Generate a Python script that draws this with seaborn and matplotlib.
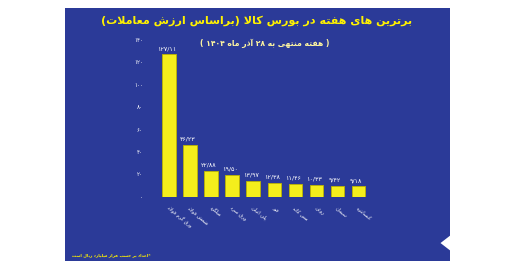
import matplotlib
matplotlib.use("Agg")
import matplotlib.pyplot as plt
import seaborn as sns
import pandas as pd
from matplotlib.patches import Rectangle, Polygon

# ---------------- data ----------------
categories = ["ورق گرم فولاد", "شمش فولاد", "میلگرد", "ورق سرد",
              "پلی اتیلن", "قیر", "مس کاتد", "روغن", "سیمان", "کنسانتره"]
values = [127.11, 46.23, 22.88, 19.50, 13.97, 12.38, 11.46, 10.33, 9.42, 9.18]
value_labels = ["۱۲۷/۱۱", "۴۶/۲۳", "۲۲/۸۸", "۱۹/۵۰", "۱۳/۹۷",
                "۱۲/۳۸", "۱۱/۴۶", "۱۰/۳۳", "۹/۴۲", "۹/۱۸"]
y_ticks = [0, 20, 40, 60, 80, 100, 120, 140]
y_tick_labels = ["۰", "۲۰", "۴۰", "۶۰", "۸۰", "۱۰۰", "۱۲۰", "۱۴۰"]
title = "برترین های هفته در بورس کالا (براساس ارزش معاملات)"
subtitle = "( هفته منتهی به ۲۸ آذر ماه ۱۴۰۴ )"
footnote = "*اعداد بر حسب هزار میلیارد ریال است"

# ------------- minimal Arabic/Persian shaping -------------
FORMS = {
    'ا': (0xFE8D, 0xFE8E, None, None), 'آ': (0xFE81, 0xFE82, None, None),
    'ب': (0xFE8F, 0xFE90, 0xFE91, 0xFE92), 'پ': (0xFB56, 0xFB57, 0xFB58, 0xFB59),
    'ت': (0xFE95, 0xFE96, 0xFE97, 0xFE98), 'ث': (0xFE99, 0xFE9A, 0xFE9B, 0xFE9C),
    'ج': (0xFE9D, 0xFE9E, 0xFE9F, 0xFEA0), 'چ': (0xFB7A, 0xFB7B, 0xFB7C, 0xFB7D),
    'ح': (0xFEA1, 0xFEA2, 0xFEA3, 0xFEA4), 'خ': (0xFEA5, 0xFEA6, 0xFEA7, 0xFEA8),
    'د': (0xFEA9, 0xFEAA, None, None), 'ذ': (0xFEAB, 0xFEAC, None, None),
    'ر': (0xFEAD, 0xFEAE, None, None), 'ز': (0xFEAF, 0xFEB0, None, None),
    'ژ': (0xFB8A, 0xFB8B, None, None),
    'س': (0xFEB1, 0xFEB2, 0xFEB3, 0xFEB4), 'ش': (0xFEB5, 0xFEB6, 0xFEB7, 0xFEB8),
    'ص': (0xFEB9, 0xFEBA, 0xFEBB, 0xFEBC), 'ض': (0xFEBD, 0xFEBE, 0xFEBF, 0xFEC0),
    'ط': (0xFEC1, 0xFEC2, 0xFEC3, 0xFEC4), 'ظ': (0xFEC5, 0xFEC6, 0xFEC7, 0xFEC8),
    'ع': (0xFEC9, 0xFECA, 0xFECB, 0xFECC), 'غ': (0xFECD, 0xFECE, 0xFECF, 0xFED0),
    'ف': (0xFED1, 0xFED2, 0xFED3, 0xFED4), 'ق': (0xFED5, 0xFED6, 0xFED7, 0xFED8),
    'ک': (0xFB8E, 0xFB8F, 0xFB90, 0xFB91), 'گ': (0xFB92, 0xFB93, 0xFB94, 0xFB95),
    'ل': (0xFEDD, 0xFEDE, 0xFEDF, 0xFEE0), 'م': (0xFEE1, 0xFEE2, 0xFEE3, 0xFEE4),
    'ن': (0xFEE5, 0xFEE6, 0xFEE7, 0xFEE8), 'ه': (0xFEE9, 0xFEEA, 0xFEEB, 0xFEEC),
    'و': (0xFEED, 0xFEEE, None, None), 'ی': (0xFBFC, 0xFBFD, 0xFBFE, 0xFBFF),
    'ئ': (0xFE89, 0xFE8A, 0xFE8B, 0xFE8C),
}


def _joins_next(ch):
    return ch in FORMS and FORMS[ch][2] is not None


def shape(text):
    out = []
    chars = list(text)
    i = 0
    n = len(chars)
    while i < n:
        ch = chars[i]
        prev = chars[i - 1] if i > 0 else None
        prev_joins = prev is not None and _joins_next(prev)
        if ch == 'ل' and i + 1 < n and chars[i + 1] in ('ا', 'آ'):
            if chars[i + 1] == 'ا':
                out.append(chr(0xFEFC if prev_joins else 0xFEFB))
            else:
                out.append(chr(0xFEF6 if prev_joins else 0xFEF5))
            i += 2
            continue
        if ch in FORMS:
            iso, fin, ini, med = FORMS[ch]
            nxt = chars[i + 1] if i + 1 < n else None
            next_ok = nxt is not None and nxt in FORMS and ini is not None
            if prev_joins and next_ok and med:
                out.append(chr(med))
            elif prev_joins:
                out.append(chr(fin))
            elif next_ok:
                out.append(chr(ini))
            else:
                out.append(chr(iso))
        else:
            out.append(ch)
        i += 1
    vis = out[::-1]
    mirror = {'(': ')', ')': '('}
    vis = [mirror.get(c, c) for c in vis]
    res = []
    run = []

    def is_num(c):
        return ('0' <= c <= '9') or ('\u06f0' <= c <= '\u06f9') or c in '/.'
    for c in vis:
        if is_num(c):
            run.append(c)
        else:
            if run:
                res.extend(run[::-1])
                run = []
            res.append(c)
    if run:
        res.extend(run[::-1])
    return ''.join(res)


# ---------------- figure ----------------
sns.set_theme(style="white")
plt.rcParams['font.family'] = ['DejaVu Sans']

fig = plt.figure(figsize=(5.14, 2.74), dpi=100)
fig.patch.set_facecolor("white")

BLUE = "#2B3A98"
YELLOW = "#F4EE1C"

fig.add_artist(Rectangle((0.126, 0.047), 0.750, 0.924,
                         transform=fig.transFigure, facecolor=BLUE,
                         edgecolor="none", zorder=0))
# white notch on the right edge of the panel
fig.add_artist(Polygon([(0.877, 0.142), (0.857, 0.113), (0.877, 0.084)],
                       closed=True, transform=fig.transFigure,
                       facecolor="white", edgecolor="none", zorder=1))

ax = fig.add_axes([0.305, 0.282, 0.417, 0.572])
ax.set_facecolor("none")

df = pd.DataFrame({"cat": categories, "val": values})
sns.barplot(data=df, x="cat", y="val", ax=ax, color=YELLOW, width=0.66,
            edgecolor="#BDB500", linewidth=0.6, saturation=1)

for i, (v, lab) in enumerate(zip(values, value_labels)):
    ax.text(i - 0.12, v + 3, lab, ha="center", va="bottom",
            fontsize=4.6, color="white")

ax.set_ylim(0, 140)
ax.set_xlim(-0.6, 9.6)
ax.set_yticks(y_ticks)
ax.set_yticklabels(y_tick_labels, fontsize=4, color="white")
ax.tick_params(axis="y", length=2, color="white", width=0.5, pad=8)
ax.set_xticks(range(len(categories)))
ax.set_xticklabels([shape(c) for c in categories], rotation=-40,
                   ha="left", va="top", rotation_mode="anchor",
                   fontsize=3.6, color="white")
ax.tick_params(axis="x", length=0, pad=6)
ax.set_xlabel("")
ax.set_ylabel("")
for s in ax.spines.values():
    s.set_visible(False)
ax.axhline(0, color="#C8D0F0", lw=0.6, zorder=0)
ax.grid(False)

fig.text(0.500, 0.925, shape(title), ha="center", va="center",
         fontsize=8, fontweight="bold", color="#FFF200")
fig.text(0.515, 0.843, shape(subtitle), ha="center", va="center",
         fontsize=5.5, fontweight="bold", color="#FFF6A0")
fig.text(0.140, 0.068, shape(footnote), ha="left", va="center",
         fontsize=3, fontweight="bold", color="#FFF200")

fig.savefig("out.png", dpi=100, facecolor=fig.get_facecolor())
